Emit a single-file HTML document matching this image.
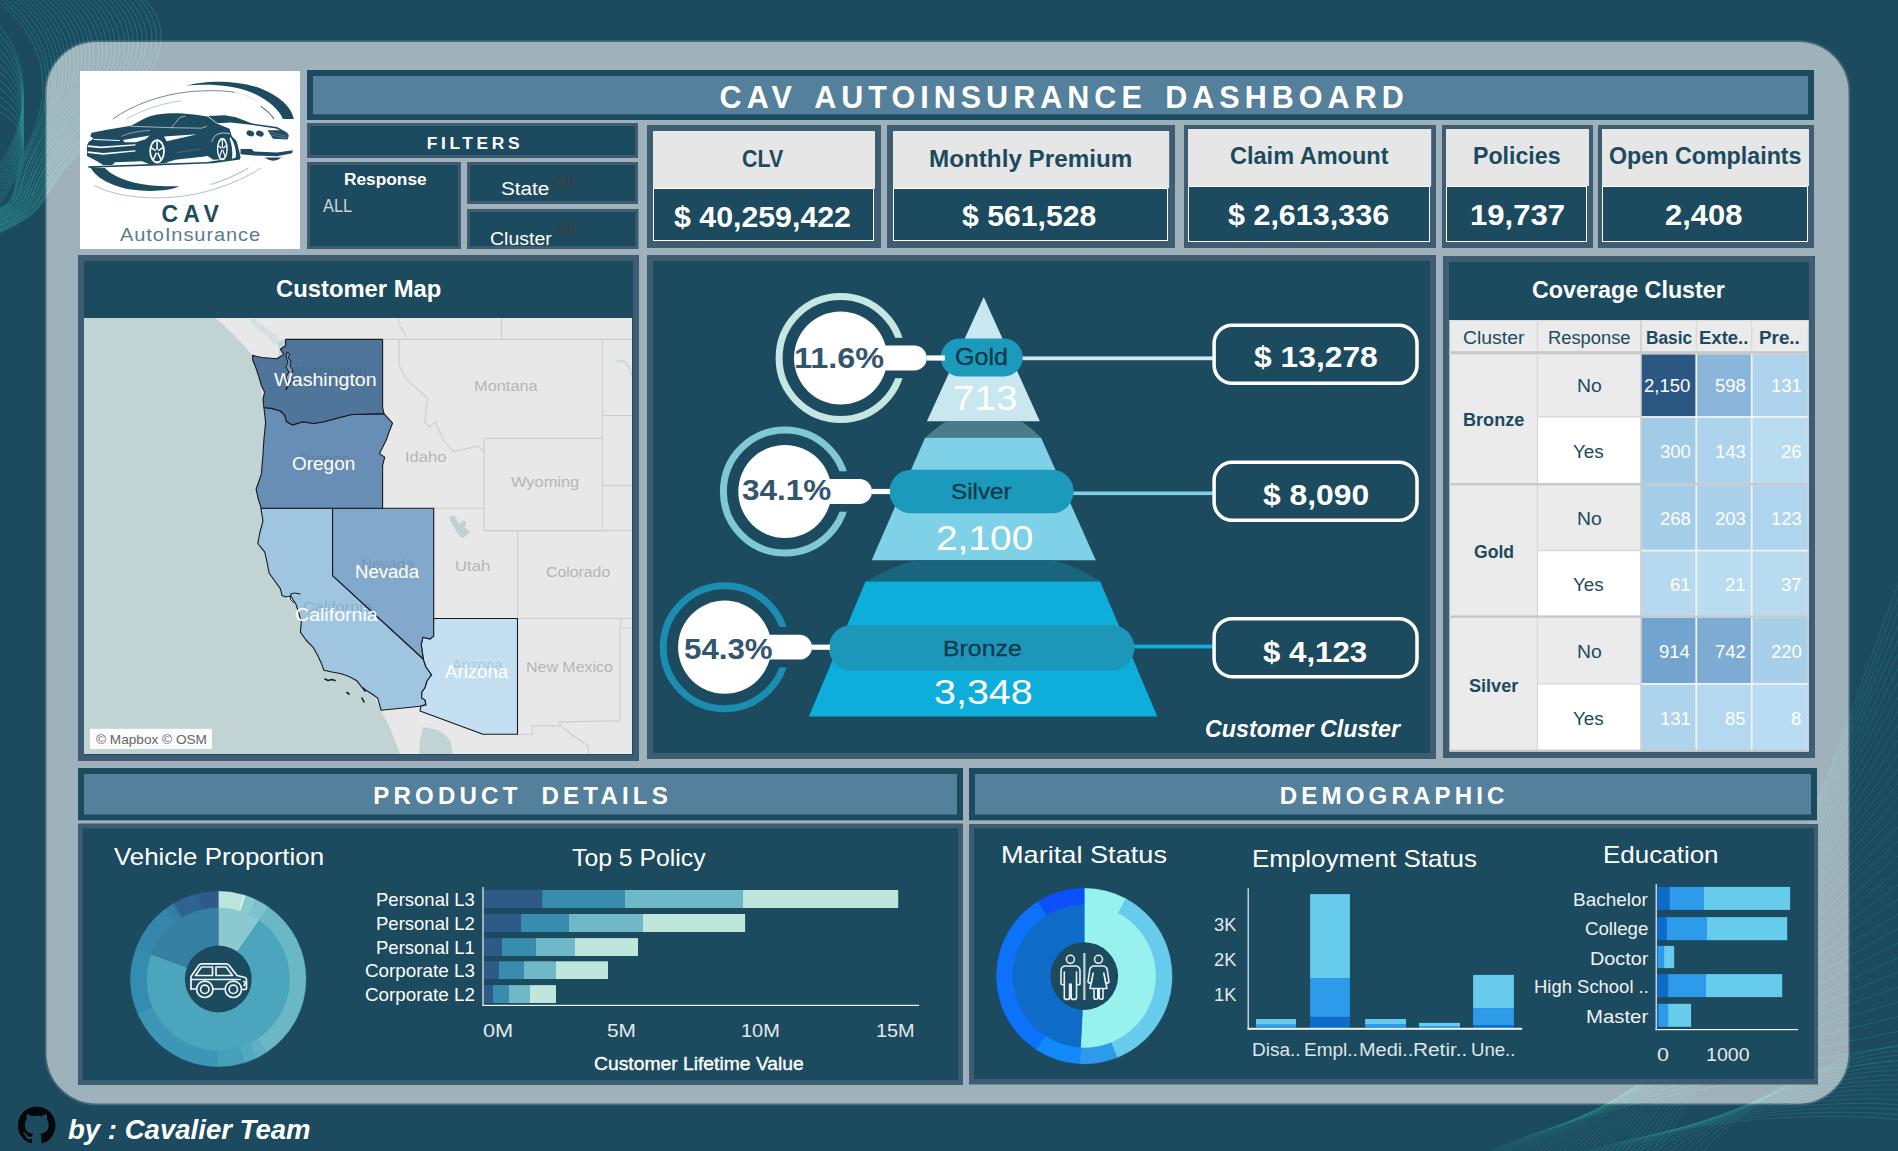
<!DOCTYPE html>
<html lang="en"><head><meta charset="utf-8"><title>CAV AutoInsurance Dashboard</title>
<style>
html,body{margin:0;padding:0;background:#1c4a5e;}
body{width:1898px;height:1151px;overflow:hidden;position:relative;font-family:"Liberation Sans", sans-serif;}
#root{position:absolute;left:0;top:0;width:1898px;height:1151px;overflow:hidden;}
#root svg{position:absolute;left:0;top:0;}
.t{position:absolute;white-space:pre;line-height:1;transform-origin:0 0;font-family:"Liberation Sans", sans-serif;}
</style></head><body><div id="root">
<svg width="1898" height="1151" viewBox="0 0 1898 1151">
<g fill="none" stroke="#2fa39a" stroke-opacity="0.5" stroke-width="0.85"><path d="M-10,-5 C45,35 55,85 30,140 S25,198 -8,212" /><path d="M-5,-5 C50,35 58,86 32,140 S26,198 -8,213" /><path d="M0,-5 C55,36 60,86 33,141 S27,199 -8,214" /><path d="M6,-5 C61,36 63,87 35,141 S29,199 -8,214" /><path d="M11,-5 C66,36 65,87 37,142 S30,199 -8,215" /><path d="M16,-5 C71,37 68,88 39,142 S31,199 -8,216" /><path d="M21,-5 C76,37 71,88 40,142 S32,200 -8,217" /><path d="M26,-5 C81,37 73,89 42,143 S33,200 -8,218" /><path d="M31,-5 C86,38 76,89 44,143 S35,200 -8,219" /><path d="M37,-5 C92,38 78,90 46,144 S36,200 -8,219" /><path d="M42,-5 C97,38 81,90 47,144 S37,201 -8,220" /><path d="M47,-5 C102,39 83,91 49,145 S38,201 -8,221" /><path d="M52,-5 C107,39 86,91 51,145 S39,201 -8,222" /><path d="M57,-5 C112,39 89,92 52,145 S41,202 -8,223" /><path d="M62,-5 C117,40 91,92 54,146 S42,202 -8,224" /><path d="M68,-5 C123,40 94,93 56,146 S43,202 -8,224" /><path d="M73,-5 C128,41 96,93 58,147 S44,202 -8,225" /><path d="M78,-5 C133,41 99,94 59,147 S46,203 -8,226" /><path d="M83,-5 C138,41 102,94 61,147 S47,203 -8,227" /><path d="M88,-5 C143,42 104,95 63,148 S48,203 -8,228" /><path d="M93,-5 C148,42 107,95 64,148 S49,204 -8,229" /><path d="M99,-5 C154,42 109,96 66,149 S50,204 -8,229" /><path d="M104,-5 C159,43 112,96 68,149 S52,204 -8,230" /><path d="M109,-5 C164,43 114,97 70,150 S53,204 -8,231" /><path d="M114,-5 C169,43 117,97 71,150 S54,205 -8,232" /><path d="M119,-5 C174,44 120,98 73,150 S55,205 -8,233" /><path d="M124,-5 C179,44 122,98 75,151 S56,205 -8,234" /><path d="M130,-5 C185,44 125,99 77,151 S58,205 -8,234" /><path d="M135,-5 C190,45 127,99 78,152 S59,206 -8,235" /><path d="M140,-5 C195,45 130,100 80,152 S60,206 -8,236" /><path d="M-5,20 C30,60 35,120 -5,170" /><path d="M-5,28 C31,66 34,125 -5,174" /><path d="M-5,36 C32,73 33,129 -5,177" /><path d="M-5,45 C33,79 32,134 -5,181" /><path d="M-5,53 C34,85 31,138 -5,185" /><path d="M-5,61 C35,92 30,143 -5,188" /><path d="M-5,69 C35,98 30,147 -5,192" /><path d="M-5,77 C36,105 29,152 -5,195" /><path d="M-5,85 C37,111 28,156 -5,199" /><path d="M-5,94 C38,117 27,161 -5,203" /><path d="M-5,102 C39,124 26,165 -5,206" /><path d="M-5,110 C40,130 25,170 -5,210" /></g>
<g fill="none" stroke="#2f9f99" stroke-opacity="0.30" stroke-width="0.9"><path d="M1470,1160 C1600,1100 1760,1075 1905,1060" /><path d="M1476,1160 C1604,1098 1762,1066 1905,1045" /><path d="M1481,1160 C1608,1097 1764,1057 1905,1030" /><path d="M1486,1160 C1612,1096 1766,1048 1905,1015" /><path d="M1492,1160 C1616,1094 1768,1039 1905,1000" /><path d="M1498,1160 C1620,1092 1770,1030 1905,985" /><path d="M1503,1160 C1624,1091 1772,1021 1905,970" /><path d="M1508,1160 C1628,1090 1774,1012 1905,955" /><path d="M1514,1160 C1632,1088 1776,1003 1905,940" /><path d="M1520,1160 C1636,1086 1778,994 1905,925" /><path d="M1525,1160 C1640,1085 1780,985 1905,910" /><path d="M1530,1160 C1644,1084 1782,976 1905,895" /><path d="M1536,1160 C1648,1082 1784,967 1905,880" /><path d="M1542,1160 C1652,1080 1786,958 1905,865" /><path d="M1547,1160 C1656,1079 1788,949 1905,850" /><path d="M1552,1160 C1660,1078 1790,940 1905,835" /><path d="M1558,1160 C1664,1076 1792,931 1905,820" /><path d="M1564,1160 C1668,1074 1794,922 1905,805" /><path d="M1569,1160 C1672,1073 1796,913 1905,790" /><path d="M1574,1160 C1676,1072 1798,904 1905,775" /><path d="M1580,1160 C1680,1070 1800,895 1905,760" /><path d="M1586,1160 C1684,1068 1802,886 1905,745" /><path d="M1591,1160 C1688,1067 1804,877 1905,730" /><path d="M1596,1160 C1692,1066 1806,868 1905,715" /><path d="M1602,1160 C1696,1064 1808,859 1905,700" /><path d="M1608,1160 C1700,1062 1810,850 1905,685" /><path d="M1613,1160 C1704,1061 1812,841 1905,670" /><path d="M1618,1160 C1708,1060 1814,832 1905,655" /><path d="M1624,1160 C1712,1058 1816,823 1905,640" /><path d="M1630,1160 C1716,1056 1818,814 1905,625" /><path d="M1635,1160 C1720,1055 1820,805 1905,610" /><path d="M1640,1160 C1724,1054 1822,796 1905,595" /><path d="M1646,1160 C1728,1052 1824,787 1905,580" /><path d="M1652,1160 C1732,1050 1826,778 1905,565" /><path d="M1560,1160 C1680,1120 1800,1110 1905,1120" /><path d="M1569,1160 C1685,1118 1803,1106 1905,1115" /><path d="M1578,1160 C1690,1116 1806,1102 1905,1110" /><path d="M1587,1160 C1695,1114 1809,1098 1905,1105" /><path d="M1596,1160 C1700,1112 1812,1094 1905,1100" /><path d="M1605,1160 C1705,1110 1815,1090 1905,1095" /><path d="M1614,1160 C1710,1108 1818,1086 1905,1090" /><path d="M1623,1160 C1715,1106 1821,1082 1905,1085" /><path d="M1632,1160 C1720,1104 1824,1078 1905,1080" /><path d="M1641,1160 C1725,1102 1827,1074 1905,1075" /><path d="M1650,1160 C1730,1100 1830,1070 1905,1070" /><path d="M1659,1160 C1735,1098 1833,1066 1905,1065" /><path d="M1668,1160 C1740,1096 1836,1062 1905,1060" /><path d="M1677,1160 C1745,1094 1839,1058 1905,1055" /><path d="M1686,1160 C1750,1092 1842,1054 1905,1050" /><path d="M1695,1160 C1755,1090 1845,1050 1905,1045" /></g>
<rect x="46.5" y="42" width="1802" height="1061.5" rx="50" ry="50" fill="#9fb2bb" stroke="#9fb2bb" stroke-opacity="0.3" stroke-width="3.4"/>
<clipPath id="cpP"><rect x="46.5" y="42" width="1802" height="1061.5" rx="50" ry="50"/></clipPath>
<g clip-path="url(#cpP)" fill="none" stroke="#a9dcd6" stroke-opacity="0.55" stroke-width="0.9"><path d="M-10,-5 C45,35 55,85 30,140 S25,198 -8,212" /><path d="M-5,-5 C50,35 58,86 32,140 S26,198 -8,213" /><path d="M0,-5 C55,36 60,86 33,141 S27,199 -8,214" /><path d="M6,-5 C61,36 63,87 35,141 S29,199 -8,214" /><path d="M11,-5 C66,36 65,87 37,142 S30,199 -8,215" /><path d="M16,-5 C71,37 68,88 39,142 S31,199 -8,216" /><path d="M21,-5 C76,37 71,88 40,142 S32,200 -8,217" /><path d="M26,-5 C81,37 73,89 42,143 S33,200 -8,218" /><path d="M31,-5 C86,38 76,89 44,143 S35,200 -8,219" /><path d="M37,-5 C92,38 78,90 46,144 S36,200 -8,219" /><path d="M42,-5 C97,38 81,90 47,144 S37,201 -8,220" /><path d="M47,-5 C102,39 83,91 49,145 S38,201 -8,221" /><path d="M52,-5 C107,39 86,91 51,145 S39,201 -8,222" /><path d="M57,-5 C112,39 89,92 52,145 S41,202 -8,223" /><path d="M62,-5 C117,40 91,92 54,146 S42,202 -8,224" /><path d="M68,-5 C123,40 94,93 56,146 S43,202 -8,224" /><path d="M73,-5 C128,41 96,93 58,147 S44,202 -8,225" /><path d="M78,-5 C133,41 99,94 59,147 S46,203 -8,226" /><path d="M83,-5 C138,41 102,94 61,147 S47,203 -8,227" /><path d="M88,-5 C143,42 104,95 63,148 S48,203 -8,228" /><path d="M93,-5 C148,42 107,95 64,148 S49,204 -8,229" /><path d="M99,-5 C154,42 109,96 66,149 S50,204 -8,229" /><path d="M104,-5 C159,43 112,96 68,149 S52,204 -8,230" /><path d="M109,-5 C164,43 114,97 70,150 S53,204 -8,231" /><path d="M114,-5 C169,43 117,97 71,150 S54,205 -8,232" /><path d="M119,-5 C174,44 120,98 73,150 S55,205 -8,233" /><path d="M124,-5 C179,44 122,98 75,151 S56,205 -8,234" /><path d="M130,-5 C185,44 125,99 77,151 S58,205 -8,234" /><path d="M135,-5 C190,45 127,99 78,152 S59,206 -8,235" /><path d="M140,-5 C195,45 130,100 80,152 S60,206 -8,236" /><path d="M-5,20 C30,60 35,120 -5,170" /><path d="M-5,28 C31,66 34,125 -5,174" /><path d="M-5,36 C32,73 33,129 -5,177" /><path d="M-5,45 C33,79 32,134 -5,181" /><path d="M-5,53 C34,85 31,138 -5,185" /><path d="M-5,61 C35,92 30,143 -5,188" /><path d="M-5,69 C35,98 30,147 -5,192" /><path d="M-5,77 C36,105 29,152 -5,195" /><path d="M-5,85 C37,111 28,156 -5,199" /><path d="M-5,94 C38,117 27,161 -5,203" /><path d="M-5,102 C39,124 26,165 -5,206" /><path d="M-5,110 C40,130 25,170 -5,210" /></g>
<g clip-path="url(#cpP)" fill="none" stroke="#a9e0d8" stroke-opacity="0.35" stroke-width="0.9"><path d="M1470,1160 C1600,1100 1760,1075 1905,1060" /><path d="M1476,1160 C1604,1098 1762,1066 1905,1045" /><path d="M1481,1160 C1608,1097 1764,1057 1905,1030" /><path d="M1486,1160 C1612,1096 1766,1048 1905,1015" /><path d="M1492,1160 C1616,1094 1768,1039 1905,1000" /><path d="M1498,1160 C1620,1092 1770,1030 1905,985" /><path d="M1503,1160 C1624,1091 1772,1021 1905,970" /><path d="M1508,1160 C1628,1090 1774,1012 1905,955" /><path d="M1514,1160 C1632,1088 1776,1003 1905,940" /><path d="M1520,1160 C1636,1086 1778,994 1905,925" /><path d="M1525,1160 C1640,1085 1780,985 1905,910" /><path d="M1530,1160 C1644,1084 1782,976 1905,895" /><path d="M1536,1160 C1648,1082 1784,967 1905,880" /><path d="M1542,1160 C1652,1080 1786,958 1905,865" /><path d="M1547,1160 C1656,1079 1788,949 1905,850" /><path d="M1552,1160 C1660,1078 1790,940 1905,835" /><path d="M1558,1160 C1664,1076 1792,931 1905,820" /><path d="M1564,1160 C1668,1074 1794,922 1905,805" /><path d="M1569,1160 C1672,1073 1796,913 1905,790" /><path d="M1574,1160 C1676,1072 1798,904 1905,775" /><path d="M1580,1160 C1680,1070 1800,895 1905,760" /><path d="M1586,1160 C1684,1068 1802,886 1905,745" /><path d="M1591,1160 C1688,1067 1804,877 1905,730" /><path d="M1596,1160 C1692,1066 1806,868 1905,715" /><path d="M1602,1160 C1696,1064 1808,859 1905,700" /><path d="M1608,1160 C1700,1062 1810,850 1905,685" /><path d="M1613,1160 C1704,1061 1812,841 1905,670" /><path d="M1618,1160 C1708,1060 1814,832 1905,655" /><path d="M1624,1160 C1712,1058 1816,823 1905,640" /><path d="M1630,1160 C1716,1056 1818,814 1905,625" /><path d="M1635,1160 C1720,1055 1820,805 1905,610" /><path d="M1640,1160 C1724,1054 1822,796 1905,595" /><path d="M1646,1160 C1728,1052 1824,787 1905,580" /><path d="M1652,1160 C1732,1050 1826,778 1905,565" /><path d="M1560,1160 C1680,1120 1800,1110 1905,1120" /><path d="M1569,1160 C1685,1118 1803,1106 1905,1115" /><path d="M1578,1160 C1690,1116 1806,1102 1905,1110" /><path d="M1587,1160 C1695,1114 1809,1098 1905,1105" /><path d="M1596,1160 C1700,1112 1812,1094 1905,1100" /><path d="M1605,1160 C1705,1110 1815,1090 1905,1095" /><path d="M1614,1160 C1710,1108 1818,1086 1905,1090" /><path d="M1623,1160 C1715,1106 1821,1082 1905,1085" /><path d="M1632,1160 C1720,1104 1824,1078 1905,1080" /><path d="M1641,1160 C1725,1102 1827,1074 1905,1075" /><path d="M1650,1160 C1730,1100 1830,1070 1905,1070" /><path d="M1659,1160 C1735,1098 1833,1066 1905,1065" /><path d="M1668,1160 C1740,1096 1836,1062 1905,1060" /><path d="M1677,1160 C1745,1094 1839,1058 1905,1055" /><path d="M1686,1160 C1750,1092 1842,1054 1905,1050" /><path d="M1695,1160 C1755,1090 1845,1050 1905,1045" /></g>
<rect x="307.00" y="70.00" width="1507.00" height="50.00" fill="#1c4a5e" />
<rect x="313.00" y="76.00" width="1495.00" height="38.30" fill="#54809c" />
<rect x="307.00" y="123.00" width="331.00" height="35.00" fill="#3e5c72" />
<rect x="310.00" y="126.00" width="325.00" height="29.00" fill="#1c4a5e" />
<rect x="307.00" y="162.00" width="154.00" height="87.00" fill="#3e5c72" />
<rect x="310.00" y="165.00" width="148.00" height="81.00" fill="#1c4a5e" />
<rect x="467.00" y="162.00" width="171.00" height="42.00" fill="#3e5c72" />
<rect x="470.00" y="165.00" width="165.00" height="36.00" fill="#1c4a5e" />
<rect x="467.00" y="209.00" width="171.50" height="40.00" fill="#3e5c72" />
<rect x="470.00" y="212.00" width="165.50" height="34.00" fill="#1c4a5e" />
<rect x="647.00" y="125.00" width="234.00" height="123.00" fill="#3e5c72" />
<rect x="653.00" y="131.00" width="222.00" height="57.50" fill="#e6e6e6" />
<rect x="653.50" y="188.50" width="220.00" height="52.00" fill="#1c4a5e" stroke="#fff" stroke-width="1"/>
<rect x="887.00" y="125.00" width="288.00" height="123.00" fill="#3e5c72" />
<rect x="893.00" y="131.00" width="276.20" height="57.40" fill="#e6e6e6" />
<rect x="893.50" y="188.50" width="274.00" height="52.00" fill="#1c4a5e" stroke="#fff" stroke-width="1"/>
<rect x="1184.00" y="125.00" width="252.00" height="123.00" fill="#3e5c72" />
<rect x="1188.00" y="129.00" width="243.20" height="57.70" fill="#e6e6e6" />
<rect x="1188.50" y="186.50" width="241.00" height="55.00" fill="#1c4a5e" stroke="#fff" stroke-width="1"/>
<rect x="1442.00" y="125.00" width="151.00" height="123.00" fill="#3e5c72" />
<rect x="1446.00" y="129.00" width="143.00" height="57.00" fill="#e6e6e6" />
<rect x="1446.50" y="186.50" width="140.00" height="55.00" fill="#1c4a5e" stroke="#fff" stroke-width="1"/>
<rect x="1598.00" y="125.00" width="216.00" height="123.00" fill="#3e5c72" />
<rect x="1602.00" y="129.00" width="207.00" height="57.00" fill="#e6e6e6" />
<rect x="1602.50" y="186.50" width="205.00" height="55.00" fill="#1c4a5e" stroke="#fff" stroke-width="1"/>
<rect x="78.00" y="255.00" width="561.00" height="506.00" fill="#3e5c72" />
<rect x="84.00" y="261.00" width="549.00" height="494.00" fill="#1c4a5e" />
<rect x="647.00" y="255.00" width="789.00" height="504.00" fill="#3e5c72" />
<rect x="653.00" y="261.00" width="777.00" height="492.00" fill="#1c4a5e" />
<rect x="1443.00" y="256.00" width="372.00" height="502.00" fill="#3e5c72" />
<rect x="1449.00" y="262.00" width="360.00" height="490.00" fill="#1c4a5e" />
<rect x="78.00" y="768.00" width="885.00" height="52.30" fill="#1c4a5e" />
<rect x="84.00" y="774.00" width="873.00" height="40.50" fill="#54809c" />
<rect x="969.00" y="768.00" width="848.00" height="52.30" fill="#1c4a5e" />
<rect x="975.00" y="774.00" width="836.00" height="40.50" fill="#54809c" />
<rect x="78.00" y="823.50" width="885.00" height="261.50" fill="#3e5c72" />
<rect x="82.60" y="828.30" width="876.00" height="251.70" fill="#1c4a5e" />
<rect x="969.00" y="824.00" width="849.00" height="260.50" fill="#3e5c72" />
<rect x="974.00" y="828.20" width="840.00" height="250.80" fill="#1c4a5e" />
<clipPath id="cpM"><rect x="84" y="318" width="548" height="436"/></clipPath>
<g clip-path="url(#cpM)">
<rect x="84.00" y="318.00" width="548.00" height="436.00" fill="#c2d3d3" />
<polygon points="215.7,318.0 232.0,333.0 245.0,347.0 252.6,355.4 256.0,368.0 259.5,378.8 263.0,399.7 263.9,407.5 265.6,422.3 263.9,439.7 261.3,474.4 256.1,489.2 261.3,508.3 263.0,520.9 257.8,543.5 264.8,552.1 269.1,573.0 280.4,588.6 282.1,595.6 296.0,604.3 301.3,621.7 300.4,632.1 313.4,647.7 322.1,665.1 323.9,670.3 341.2,673.8 356.9,680.8 373.5,695.0 381.1,710.2 386.0,720.0 390.6,729.1 395.0,741.0 400.0,754.0 632.0,754.0 632.0,318.0" fill="#e8e8e8"/>
<path d="M249,319 l5,-1 4,5 6,3 8,7 5,1 2,8 -5,3 -6,-8 -8,-6 -7,-6z" fill="#d3e0e0"/>
<path d="M277,343 q5,-4 9,-3 l0,18 q-6,4 -10,1 q6,-6 1,-16z" fill="#c2d3d3"/>
<polygon points="423.0,727.0 430.0,728.5 438.0,730.0 445.0,735.0 450.0,740.0 453.0,754.0 419.0,754.0 420.0,740.0" fill="#c2d3d3"/>
<polygon points="449.0,516.5 454.2,515.3 459.4,524.3 462.0,520.9 466.4,521.7 464.7,527.8 469.9,532.2 462.9,538.2 457.7,533.9 453.4,526.1 449.9,520.0" fill="#bfd1d1"/>
<path d="M616,362 q6,-3 10,1 t4,8 l2,4" fill="none" stroke="#bfd6d6" stroke-width="1.3"/>
<g fill="none" stroke="#cdcdcd" stroke-width="1.1"><path d="M382.6,339.4 H632"/><path d="M501.4,318 V339.4"/><path d="M399.1,340 V364.8 L404.9,377.3 L416,388 L427.8,398.3 L426,410 L424.9,422.2 L429.7,427 L435.4,422.2 L440,433 L445,442.3 L453.6,451.8 L465,449 L477.5,446.1 L484.2,451.8"/><path d="M484.2,438.4 H602.3 V530.6 H484.2 Z"/><path d="M602.3,339.4 V438.4"/><path d="M602.3,415.5 H632"/><path d="M602.3,485.3 H632"/><path d="M433.7,508.3 H484.2"/><path d="M484.2,530.6 H632"/><path d="M517.6,530.6 V618.5"/><path d="M517.5,618.5 H632"/><path d="M620.8,618.5 V628 H632"/><path d="M619.8,628 V720.9 L558.9,721.9 L560.9,725.9 H532.3 V734.2 H517.5"/><path d="M560.9,725.9 L572,735 L587.8,745.8 L588.8,754"/><path d="M399,318 q-2,6 2,10 t5,11"/></g>
<polygon points="260.9,508.3 332.6,508.3 332.6,575.6 423.3,659.0 426.0,667.0 431.6,674.9 427.0,681.0 425.0,688.0 422.0,692.0 421.6,698.0 425.0,700.0 426.0,705.0 420.5,706.3 381.1,710.2 377.7,698.2 373.5,695.0 362.1,687.7 356.9,680.8 349.0,676.5 341.2,673.8 332.0,672.0 323.9,670.3 322.1,665.1 318.0,656.0 313.4,647.7 306.0,640.0 300.4,632.1 301.3,621.7 298.5,612.0 296.0,604.3 290.8,596.0 286.0,597.0 282.1,595.6 280.4,588.6 274.0,580.0 269.1,573.0 267.0,562.0 264.8,552.1 257.8,543.5 260.0,532.0 263.0,520.9" fill="#9fc5e1" stroke="#141a1f" stroke-width="1.1" stroke-linejoin="round"/>
<polygon points="433.4,618.5 517.5,618.5 517.5,734.2 482.9,734.2 420.0,710.9 421.0,705.9 426.0,704.9 425.0,699.9 421.6,697.9 422.0,691.9 425.0,687.9 427.0,681.0 431.6,674.9 426.0,667.0 423.3,659.0 421.2,644.3 422.9,637.3 429.9,639.0 433.4,635.9" fill="#c3dff1" stroke="#141a1f" stroke-width="1.1" stroke-linejoin="round"/>
<polygon points="332.6,508.3 433.7,508.3 433.7,636.4 429.9,639.0 422.9,637.3 421.2,644.3 423.3,659.0 332.6,575.6" fill="#82a8cc" stroke="#141a1f" stroke-width="1.1" stroke-linejoin="round"/>
<polygon points="263.9,407.5 271.7,408.4 280.4,411.0 284.8,415.3 286.5,421.4 292.6,424.9 303.0,421.8 313.4,423.5 323.9,421.8 337.8,418.0 351.7,414.5 384.0,413.6 392.5,423.2 389.0,432.0 386.4,439.7 379.5,453.6 384.7,457.1 382.6,465.7 382.6,508.3 261.3,508.3 258.0,498.0 256.1,489.2 259.0,481.0 261.3,474.4 262.8,457.0 263.9,439.7 265.6,422.3" fill="#698eb5" stroke="#141a1f" stroke-width="1.1" stroke-linejoin="round"/>
<polygon points="285.6,339.4 382.6,339.4 382.6,407.5 384.0,413.6 351.7,414.5 337.8,418.0 323.9,421.8 313.4,423.5 303.0,421.8 292.6,424.9 286.5,421.4 284.8,415.3 280.4,411.0 271.7,408.4 263.9,407.5 263.0,399.7 264.5,392.0 261.5,386.0 259.5,378.8 256.0,368.0 252.6,359.7 252.6,355.4 262.0,357.5 276.9,358.8 283.9,354.5 280.4,349.3 285.6,345.8" fill="#4f759b" stroke="#141a1f" stroke-width="1.1" stroke-linejoin="round"/>
<path d="M287,352 l3,2 -2,4 3,3 -1,5 3,4 -2,6 2,5 -4,4 -3,5 2,-7 -2,-6 3,-5 -3,-5 2,-5 -2,-5z" fill="#7d97b3" stroke="#141a1f" stroke-width="1"/>
<path d="M290.5,594 l4,-1 6,1 M291,594 l-1,5 4,4" fill="none" stroke="#141a1f" stroke-width="1"/>
<path d="M325,679 l3,1.5 4,-1 3,1 M347,692.5 l2,1.5 M363,688 l2,3 M362,698 l2,4" fill="none" stroke="#141a1f" stroke-width="1.6" stroke-linecap="round"/>
</g>
<rect x="89.9" y="728.8" width="122" height="20.2" fill="#ffffff" fill-opacity="0.92"/>
<polygon points="983.7,296.9 1039.8,421.3 926.9,421.3" fill="#c9e7ef"/>
<path d="M925.1,437.7 C933,431 940,424.5 947,421.3 L1020.5,421.3 C1027,424.5 1034,431 1041.1,437.7 Z" fill="#4a7b88"/>
<polygon points="925.1,437.7 1041.1,437.7 1095.8,560.2 871.7,560.2" fill="#7fd1e8"/>
<path d="M865.5,581.5 C884,571 900,563.5 917,560.2 L1052.5,560.2 C1069,563.5 1085,571 1100.2,581.5 Z" fill="#1a657e"/>
<polygon points="865.5,581.5 1100.2,581.5 1157.3,716.6 808.9,716.6" fill="#0eaedb"/>
<rect x="1022" y="356.4" width="192" height="3.8" fill="#cdeaf0"/>
<rect x="1073" y="491.5" width="141" height="3.6" fill="#7fd1e8"/>
<rect x="1134" y="644.6" width="80" height="3.8" fill="#0eaedb"/>
<rect x="940.7" y="338.6" width="82.1" height="37.8" rx="18.9" fill="#1b9abb"/>
<rect x="889.4" y="469.7" width="184.3" height="43.6" rx="21.8" fill="#1b9abb"/>
<rect x="828.8" y="624.9" width="305.6" height="45.8" rx="22.9" fill="#1c97b9"/>
<circle cx="840.6" cy="358" r="61.5" fill="none" stroke="#c5e6e2" stroke-width="7"/>
<rect x="890.6" y="337.8" width="20" height="40.4" fill="#1c4a5e"/>
<rect x="926.8" y="355.4" width="18" height="5.2" fill="#fff"/>
<rect x="840.6" y="345.60" width="86.2" height="24.8" rx="12.4" fill="#fff"/>
<circle cx="840.6" cy="358" r="46.6" fill="#fff"/>
<circle cx="784.9" cy="491.5" r="61.5" fill="none" stroke="#7fc8d4" stroke-width="7"/>
<rect x="834.9" y="471.3" width="20" height="40.4" fill="#1c4a5e"/>
<rect x="872.0" y="488.9" width="18" height="5.2" fill="#fff"/>
<rect x="784.9" y="479.10" width="87.1" height="24.8" rx="12.4" fill="#fff"/>
<circle cx="784.9" cy="491.5" r="46.6" fill="#fff"/>
<circle cx="724.7" cy="647.2" r="61.5" fill="none" stroke="#1b8db0" stroke-width="7"/>
<rect x="774.7" y="627.0" width="20" height="40.4" fill="#1c4a5e"/>
<rect x="812.0" y="644.6" width="18" height="5.2" fill="#fff"/>
<rect x="724.7" y="634.80" width="87.3" height="24.8" rx="12.4" fill="#fff"/>
<circle cx="724.7" cy="647.2" r="46.6" fill="#fff"/>
<rect x="1214.1" y="325.35" width="202.9" height="58" rx="18" fill="#1c4a5e" stroke="#fff" stroke-width="3.5"/>
<rect x="1214.1" y="462.35" width="202.9" height="58" rx="18" fill="#1c4a5e" stroke="#fff" stroke-width="3.5"/>
<rect x="1214.1" y="618.65" width="202.9" height="58" rx="18" fill="#1c4a5e" stroke="#fff" stroke-width="3.5"/>
<rect x="1449.50" y="320.00" width="359.10" height="32.00" fill="#ebebeb" />
<rect x="1449.50" y="352.00" width="359.10" height="399.60" fill="#ebebeb" />
<rect x="1537.50" y="417.00" width="103.50" height="67.40" fill="#fff" />
<rect x="1537.50" y="550.60" width="103.50" height="66.20" fill="#fff" />
<rect x="1537.50" y="683.90" width="103.50" height="66.70" fill="#fff" />
<rect x="1641.00" y="354.40" width="55.30" height="62.60" fill="#2b5783" />
<rect x="1696.30" y="354.40" width="55.40" height="62.60" fill="#89b6da" />
<rect x="1751.70" y="354.40" width="56.90" height="62.60" fill="#aed4ed" />
<rect x="1641.00" y="417.00" width="55.30" height="67.40" fill="#a1cbe7" />
<rect x="1696.30" y="417.00" width="55.40" height="67.40" fill="#aed4ed" />
<rect x="1751.70" y="417.00" width="56.90" height="67.40" fill="#b9dcf1" />
<rect x="1641.00" y="484.40" width="55.30" height="66.20" fill="#a4cde8" />
<rect x="1696.30" y="484.40" width="55.40" height="66.20" fill="#a9d0ea" />
<rect x="1751.70" y="484.40" width="56.90" height="66.20" fill="#afd4ed" />
<rect x="1641.00" y="550.60" width="55.30" height="66.20" fill="#b6d9ef" />
<rect x="1696.30" y="550.60" width="55.40" height="66.20" fill="#b9dcf1" />
<rect x="1751.70" y="550.60" width="56.90" height="66.20" fill="#b8dbf0" />
<rect x="1641.00" y="616.80" width="55.30" height="67.10" fill="#73a3cf" />
<rect x="1696.30" y="616.80" width="55.40" height="67.10" fill="#7eabd3" />
<rect x="1751.70" y="616.80" width="56.90" height="67.10" fill="#a7cfe9" />
<rect x="1641.00" y="683.90" width="55.30" height="66.70" fill="#aed4ed" />
<rect x="1696.30" y="683.90" width="55.40" height="66.70" fill="#b4d8ef" />
<rect x="1751.70" y="683.90" width="56.90" height="66.70" fill="#badcf2" />
<rect x="1695.40" y="352.00" width="1.80" height="399.00" fill="#eef4f8" />
<rect x="1750.80" y="352.00" width="1.80" height="399.00" fill="#eef4f8" />
<rect x="1641.00" y="416.10" width="167.60" height="1.80" fill="#eef4f8" />
<rect x="1641.00" y="483.50" width="167.60" height="1.80" fill="#eef4f8" />
<rect x="1641.00" y="549.70" width="167.60" height="1.80" fill="#eef4f8" />
<rect x="1641.00" y="615.90" width="167.60" height="1.80" fill="#eef4f8" />
<rect x="1641.00" y="683.00" width="167.60" height="1.80" fill="#eef4f8" />
<rect x="1536.90" y="320.00" width="1.20" height="431.00" fill="#d6d6d6" />
<rect x="1640.20" y="320.00" width="1.60" height="431.00" fill="#cfcfcf" />
<rect x="1695.70" y="320.00" width="1.20" height="32.00" fill="#d6d6d6" />
<rect x="1751.10" y="320.00" width="1.20" height="32.00" fill="#d6d6d6" />
<rect x="1537.50" y="416.40" width="103.50" height="1.20" fill="#d6d6d6" />
<rect x="1537.50" y="550.00" width="103.50" height="1.20" fill="#d6d6d6" />
<rect x="1537.50" y="683.30" width="103.50" height="1.20" fill="#d6d6d6" />
<rect x="1449.50" y="351.20" width="359.10" height="3.00" fill="#c9c9c9" />
<rect x="1449.50" y="483.00" width="359.10" height="2.40" fill="#c9c9c9" />
<rect x="1449.50" y="615.40" width="359.10" height="2.40" fill="#c9c9c9" />
<rect x="1449.50" y="749.60" width="359.10" height="2.20" fill="#c9c9c9" />
<rect x="1449.50" y="320.00" width="359.10" height="1.00" fill="#dcdcdc" />
<rect x="1449.50" y="320.00" width="1.00" height="431.00" fill="#dcdcdc" />
<rect x="1807.60" y="320.00" width="1.00" height="431.00" fill="#dcdcdc" />
<path d="M218.30,891.30 A87.7,87.7 0 0 1 242.47,894.70 L237.82,910.94 A70.8,70.8 0 0 0 218.30,908.20 Z" fill="#bde6da" stroke="#bde6da" stroke-width="0.4"/>
<path d="M242.47,894.70 A87.7,87.7 0 0 1 246.13,895.83 L240.77,911.86 A70.8,70.8 0 0 0 237.82,910.94 Z" fill="#c9ede2" stroke="#c9ede2" stroke-width="0.4"/>
<path d="M246.13,895.83 A87.7,87.7 0 0 1 256.75,900.18 L249.34,915.37 A70.8,70.8 0 0 0 240.77,911.86 Z" fill="#89c9d1" stroke="#89c9d1" stroke-width="0.4"/>
<path d="M256.75,900.18 A87.7,87.7 0 0 1 268.60,907.16 L258.91,921.00 A70.8,70.8 0 0 0 249.34,915.37 Z" fill="#7dc3cd" stroke="#7dc3cd" stroke-width="0.4"/>
<path d="M268.60,907.16 A87.7,87.7 0 0 1 266.06,1052.55 L256.86,1038.38 A70.8,70.8 0 0 0 258.91,921.00 Z" fill="#6ab7c5" stroke="#6ab7c5" stroke-width="0.4"/>
<path d="M266.06,1052.55 A87.7,87.7 0 0 1 255.36,1058.48 L248.22,1043.17 A70.8,70.8 0 0 0 256.86,1038.38 Z" fill="#5db0c2" stroke="#5db0c2" stroke-width="0.4"/>
<path d="M255.36,1058.48 A87.7,87.7 0 0 1 243.94,1062.87 L239.00,1046.71 A70.8,70.8 0 0 0 248.22,1043.17 Z" fill="#53a9bf" stroke="#53a9bf" stroke-width="0.4"/>
<path d="M243.94,1062.87 A87.7,87.7 0 0 1 216.77,1066.69 L217.06,1049.79 A70.8,70.8 0 0 0 239.00,1046.71 Z" fill="#45a0ba" stroke="#45a0ba" stroke-width="0.4"/>
<path d="M216.77,1066.69 A87.7,87.7 0 0 1 137.33,1012.70 L152.94,1006.21 A70.8,70.8 0 0 0 217.06,1049.79 Z" fill="#3c96b5" stroke="#3c96b5" stroke-width="0.4"/>
<path d="M137.33,1012.70 A87.7,87.7 0 0 1 136.05,948.57 L151.90,954.44 A70.8,70.8 0 0 0 152.94,1006.21 Z" fill="#348cb0" stroke="#348cb0" stroke-width="0.4"/>
<path d="M136.05,948.57 A87.7,87.7 0 0 1 166.38,908.32 L176.39,921.94 A70.8,70.8 0 0 0 151.90,954.44 Z" fill="#3687ab" stroke="#3687ab" stroke-width="0.4"/>
<path d="M166.38,908.32 A87.7,87.7 0 0 1 173.79,903.44 L182.37,918.00 A70.8,70.8 0 0 0 176.39,921.94 Z" fill="#347da4" stroke="#347da4" stroke-width="0.4"/>
<path d="M173.79,903.44 A87.7,87.7 0 0 1 198.57,893.55 L202.37,910.01 A70.8,70.8 0 0 0 182.37,918.00 Z" fill="#2e6390" stroke="#2e6390" stroke-width="0.4"/>
<path d="M198.57,893.55 A87.7,87.7 0 0 1 218.30,891.30 L218.30,908.20 A70.8,70.8 0 0 0 202.37,910.01 Z" fill="#2d5a8a" stroke="#2d5a8a" stroke-width="0.4"/>
<path d="M218.30,907.70 A71.3,71.3 0 0 1 259.20,920.59 L236.88,952.46 A32.4,32.4 0 0 0 218.30,946.60 Z" fill="#8bc8d0" stroke="#8bc8d0" stroke-width="0.4"/>
<path d="M259.20,920.59 A71.3,71.3 0 1 1 151.43,954.26 L187.91,967.76 A32.4,32.4 0 1 0 236.88,952.46 Z" fill="#4ba6bd" stroke="#4ba6bd" stroke-width="0.4"/>
<path d="M151.43,954.26 A71.3,71.3 0 0 1 218.30,907.70 L218.30,946.60 A32.4,32.4 0 0 0 187.91,967.76 Z" fill="#3580a3" stroke="#3580a3" stroke-width="0.4"/>
<circle cx="218.3" cy="979" r="33.4" fill="#1c4a5e"/>
<path d="M1084.30,888.30 A87.8,87.8 0 0 1 1126.06,898.87 L1118.02,913.73 A70.9,70.9 0 0 0 1084.30,905.20 Z" fill="#97f2ee" stroke="#97f2ee" stroke-width="0.4"/>
<path d="M1126.06,898.87 A87.8,87.8 0 0 1 1116.91,1057.62 L1110.63,1041.93 A70.9,70.9 0 0 0 1118.02,913.73 Z" fill="#67ccec" stroke="#67ccec" stroke-width="0.4"/>
<path d="M1116.91,1057.62 A87.8,87.8 0 0 1 1079.70,1063.78 L1080.59,1046.90 A70.9,70.9 0 0 0 1110.63,1041.93 Z" fill="#2d9bea" stroke="#2d9bea" stroke-width="0.4"/>
<path d="M1079.70,1063.78 A87.8,87.8 0 0 1 1036.10,1049.48 L1045.37,1035.36 A70.9,70.9 0 0 0 1080.59,1046.90 Z" fill="#128afc" stroke="#128afc" stroke-width="0.4"/>
<path d="M1036.10,1049.48 A87.8,87.8 0 0 1 1038.29,901.32 L1047.15,915.71 A70.9,70.9 0 0 0 1045.37,1035.36 Z" fill="#0c72fb" stroke="#0c72fb" stroke-width="0.4"/>
<path d="M1038.29,901.32 A87.8,87.8 0 0 1 1084.30,888.30 L1084.30,905.20 A70.9,70.9 0 0 0 1047.15,915.71 Z" fill="#0b50fc" stroke="#0b50fc" stroke-width="0.4"/>
<path d="M1084.30,904.70 A71.4,71.4 0 1 1 1080.56,1047.40 L1082.58,1008.86 A32.8,32.8 0 1 0 1084.30,943.30 Z" fill="#97f2ee" stroke="#97f2ee" stroke-width="0.4"/>
<path d="M1080.56,1047.40 A71.4,71.4 0 0 1 1084.30,904.70 L1084.30,943.30 A32.8,32.8 0 0 0 1082.58,1008.86 Z" fill="#0e6cc8" stroke="#0e6cc8" stroke-width="0.4"/>
<circle cx="1084.3" cy="976.1" r="33.8" fill="#1c4a5e"/>
<g fill="none" stroke="#f2f6f8" stroke-width="1.7" stroke-linejoin="round" stroke-linecap="round">
<path d="M191,989 V976.5 L199,965 Q200,963.8 201.5,963.8 H226 Q227.8,963.8 228.8,965 L237,975.5 L245,977.5 Q246.5,978 246.5,980 V988.5 Q246.5,989.5 245,989.5 H242.5"/>
<path d="M191,989 H195.5 M214,989 H224"/>
<path d="M195.5,975.5 L201.5,967 H212.5 V975.5 Z M216,967 H226 L232.5,975.5 H216 Z"/>
<path d="M191,979.5 H240"/>
<circle cx="204.8" cy="989.3" r="8.2"/><circle cx="204.8" cy="989.3" r="4.2"/>
<circle cx="233.3" cy="989.3" r="8.2"/><circle cx="233.3" cy="989.3" r="4.2"/>
<path d="M244,981.5 q2.5,1.5 0,4"/>
</g>
<g fill="none" stroke="#e9eef1" stroke-width="1.6" stroke-linejoin="round" stroke-linecap="round">
<circle cx="1070.4" cy="959.3" r="4"/>
<path d="M1066,966 H1075 Q1080,966 1080,971 V984 Q1078,985.5 1076.5,984 V972 M1064.3,972 V984 Q1062.7,985.5 1061,984 V971 Q1061,966 1066,966 M1064.3,984 V998.5 Q1067,1000.5 1069.6,998.5 V984 M1071.2,984 V998.5 Q1073.8,1000.5 1076.5,998.5 V984"/>
<circle cx="1098.5" cy="959.3" r="4"/>
<path d="M1094.5,966 H1102.5 Q1106.5,966 1107.3,970 L1109,982 Q1107.5,984 1105.5,982.5 L1103.8,973 M1093.2,973 L1091.5,982.5 Q1089.5,984 1088,982 L1089.7,970 Q1090.5,966 1094.5,966 M1093.2,973 L1090,988.5 H1107 L1103.8,973 M1094,988.5 V998.5 Q1096,1000 1097.8,998.5 V988.5 M1099.2,988.5 V998.5 Q1101,1000 1103,998.5 V988.5"/>
</g>
<rect x="1083.2" y="953" width="2.3" height="47" fill="#c3ccd1"/>
<rect x="483.60" y="890.00" width="58.60" height="18.00" fill="#2e5a87" />
<rect x="542.20" y="890.00" width="82.80" height="18.00" fill="#388cae" />
<rect x="625.00" y="890.00" width="117.80" height="18.00" fill="#6fb8c7" />
<rect x="742.80" y="890.00" width="155.40" height="18.00" fill="#bee6da" />
<rect x="483.60" y="914.00" width="37.50" height="18.00" fill="#2e5a87" />
<rect x="521.10" y="914.00" width="47.80" height="18.00" fill="#388cae" />
<rect x="568.90" y="914.00" width="74.00" height="18.00" fill="#6fb8c7" />
<rect x="642.90" y="914.00" width="102.20" height="18.00" fill="#bee6da" />
<rect x="483.60" y="938.10" width="18.40" height="17.90" fill="#2e5a87" />
<rect x="502.00" y="938.10" width="33.90" height="17.90" fill="#388cae" />
<rect x="535.90" y="938.10" width="39.10" height="17.90" fill="#6fb8c7" />
<rect x="575.00" y="938.10" width="63.00" height="17.90" fill="#bee6da" />
<rect x="483.60" y="961.30" width="15.30" height="17.70" fill="#2e5a87" />
<rect x="498.90" y="961.30" width="25.00" height="17.70" fill="#388cae" />
<rect x="523.90" y="961.30" width="32.10" height="17.70" fill="#6fb8c7" />
<rect x="556.00" y="961.30" width="52.00" height="17.70" fill="#bee6da" />
<rect x="483.60" y="985.10" width="9.40" height="17.90" fill="#2e5a87" />
<rect x="493.00" y="985.10" width="15.80" height="17.90" fill="#388cae" />
<rect x="508.80" y="985.10" width="21.20" height="17.90" fill="#6fb8c7" />
<rect x="530.00" y="985.10" width="26.00" height="17.90" fill="#bee6da" />
<rect x="482.40" y="887.00" width="1.20" height="119.00" fill="#f0f3f5" />
<rect x="482.40" y="1004.80" width="436.80" height="1.20" fill="#f0f3f5" />
<rect x="1256.00" y="1019.00" width="40.00" height="5.80" fill="#67ccec" />
<rect x="1256.00" y="1024.50" width="40.00" height="3.30" fill="#2d9bea" />
<rect x="1256.00" y="1027.50" width="40.00" height="0.50" fill="#0e6cc8" />
<rect x="1310.10" y="894.10" width="39.80" height="84.40" fill="#67ccec" />
<rect x="1310.10" y="978.20" width="39.80" height="38.90" fill="#2d9bea" />
<rect x="1310.10" y="1016.80" width="39.80" height="11.20" fill="#0e6cc8" />
<rect x="1365.10" y="1019.00" width="40.90" height="5.30" fill="#67ccec" />
<rect x="1365.10" y="1024.00" width="40.90" height="3.80" fill="#2d9bea" />
<rect x="1365.10" y="1027.50" width="40.90" height="0.50" fill="#0e6cc8" />
<rect x="1419.00" y="1022.90" width="41.00" height="3.40" fill="#67ccec" />
<rect x="1419.00" y="1026.00" width="41.00" height="2.10" fill="#2d9bea" />
<rect x="1419.00" y="1027.80" width="41.00" height="0.20" fill="#0e6cc8" />
<rect x="1473.10" y="974.90" width="40.80" height="33.50" fill="#67ccec" />
<rect x="1473.10" y="1008.10" width="40.80" height="17.30" fill="#2d9bea" />
<rect x="1473.10" y="1025.10" width="40.80" height="2.90" fill="#0e6cc8" />
<rect x="1247.60" y="888.20" width="1.20" height="141.40" fill="#f0f3f5" />
<rect x="1247.60" y="1027.80" width="274.60" height="2.00" fill="#f0f3f5" />
<rect x="1657.00" y="886.90" width="13.00" height="23.00" fill="#0e6cc8" />
<rect x="1669.80" y="886.90" width="34.40" height="23.00" fill="#2d9bea" />
<rect x="1704.00" y="886.90" width="86.10" height="23.00" fill="#67ccec" />
<rect x="1657.00" y="917.10" width="10.10" height="23.10" fill="#0e6cc8" />
<rect x="1666.90" y="917.10" width="40.30" height="23.10" fill="#2d9bea" />
<rect x="1707.00" y="917.10" width="80.20" height="23.10" fill="#67ccec" />
<rect x="1657.00" y="945.90" width="1.00" height="22.20" fill="#0e6cc8" />
<rect x="1657.80" y="945.90" width="6.50" height="22.20" fill="#2d9bea" />
<rect x="1664.10" y="945.90" width="10.10" height="22.20" fill="#67ccec" />
<rect x="1657.00" y="974.10" width="11.30" height="23.00" fill="#0e6cc8" />
<rect x="1668.10" y="974.10" width="38.10" height="23.00" fill="#2d9bea" />
<rect x="1706.00" y="974.10" width="76.20" height="23.00" fill="#67ccec" />
<rect x="1657.00" y="1003.80" width="1.80" height="23.00" fill="#0e6cc8" />
<rect x="1658.60" y="1003.80" width="9.70" height="23.00" fill="#2d9bea" />
<rect x="1668.10" y="1003.80" width="23.00" height="23.00" fill="#67ccec" />
<rect x="1655.60" y="883.90" width="1.20" height="146.30" fill="#f0f3f5" />
<rect x="1655.60" y="1029.00" width="142.50" height="1.20" fill="#f0f3f5" />
<g transform="translate(17.9,1106.6) scale(2.35)"><path fill="#050708" d="M8 0C3.58 0 0 3.58 0 8c0 3.54 2.29 6.53 5.47 7.59.4.07.55-.17.55-.38 0-.19-.01-.82-.01-1.49-2.01.37-2.53-.49-2.69-.94-.09-.23-.48-.94-.82-1.13-.28-.15-.68-.52-.01-.53.63-.01 1.08.58 1.23.82.72 1.21 1.87.87 2.33.66.07-.52.28-.87.51-1.07-1.78-.2-3.64-.89-3.64-3.95 0-.87.31-1.59.82-2.15-.08-.2-.36-1.02.08-2.12 0 0 .67-.21 2.2.82.64-.18 1.32-.27 2-.27s1.36.09 2 .27c1.53-1.04 2.2-.82 2.2-.82.44 1.1.16 1.92.08 2.12.51.56.82 1.27.82 2.15 0 3.07-1.87 3.75-3.65 3.95.29.25.54.73.54 1.48 0 1.07-.01 1.93-.01 2.2 0 .21.15.46.55.38A8.01 8.01 0 0 0 16 8c0-4.42-3.58-8-8-8z"/></g>
<rect x="80.00" y="71.00" width="220.00" height="178.00" fill="#fff" />
<g transform="translate(80,76) scale(0.11591)">
<g fill="#1e4b60">
<path d="M915,85 C1050,38 1350,28 1560,108 C1720,172 1825,268 1845,370 L1750,370 C1720,292 1620,203 1480,142 C1300,70 1080,68 915,85 Z"/>
<path d="M70,783 L215,793 C265,852 400,918 600,943 C700,955 790,950 858,952 C780,990 600,1003 440,980 C280,952 140,880 95,795 Z"/>
<path d="M70,778 L1100,742 L1290,712 L1385,700 L1380,720 L1150,752 L600,775 L75,792 Z"/>
<path d="M60,690 L60,600 L75,570 L118,540 L88,520 L100,490 L220,465 L440,430 L520,385 C580,350 640,335 700,328 C760,318 900,318 1000,335 L1100,350 L1180,410 L1290,455 L1310,520 L1350,560 L1372,640 L1386,700 L1330,725 L1270,716 L1150,722 L1100,692 L820,722 L740,752 L600,762 L540,737 L310,752 L270,767 L200,767 L140,732 Z"/>
<path d="M1105,345 L1250,338 L1345,356 L1480,408 L1700,440 L1800,495 L1790,500 L1690,452 L1470,420 L1300,402 L1185,408 Z"/>
<ellipse cx="1470" cy="495" rx="34" ry="25" transform="rotate(20 1470 495)"/>
<ellipse cx="1552" cy="497" rx="34" ry="25" transform="rotate(20 1552 497)"/>
<path d="M1618,468 L1745,468 L1802,512 L1792,548 L1665,542 Z"/>
<path d="M1385,630 L1480,630 L1502,652 L1700,660 L1836,640 L1830,666 L1700,692 L1500,686 L1385,676 Z"/>
<path d="M1592,704 H1740 Q1668,760 1592,704 Z"/>
</g>
<g fill="none" stroke="#1e4b60" stroke-linecap="round">
<path d="M285,370 C450,250 700,160 950,135 C1100,122 1250,125 1330,140" stroke-width="7" stroke-opacity="0.8"/>
<path d="M405,370 C520,300 700,235 870,215" stroke-width="5" stroke-opacity="0.55"/>
<path d="M1330,140 C1400,155 1470,180 1530,215" stroke-width="4" stroke-opacity="0.35"/>
<path d="M1560,262 C1610,295 1650,335 1672,368" stroke-width="9" stroke-opacity="0.85"/>
<path d="M125,945 C300,1040 600,1075 900,1035 C1150,1000 1400,900 1560,795" stroke-width="6" stroke-opacity="0.5"/>
<path d="M1130,935 C1250,900 1380,840 1450,795" stroke-width="6" stroke-opacity="0.6"/>
</g>
<g fill="#fff">
<path d="M370,553 L602,513 L565,545 L480,572 L385,572 Z"/>
<path d="M725,523 L1012,503 L880,532 L748,562 Z"/>
<path d="M118,543 L340,552 L345,560 L120,553 Z"/>
<path d="M66,598 L180,608 L480,588 L478,600 L180,624 L66,612 Z"/>
<path d="M66,650 L200,664 L480,640 L478,652 L200,680 L66,664 Z"/>
<path d="M300,745 L540,735 L530,750 L290,761 Z"/>
<path d="M730,745 L1100,692 L1128,707 L800,742 Z"/>
<path d="M1300,528 Q1352,610 1345,700 L1312,716 Q1322,620 1290,540 Z"/>
<ellipse cx="665" cy="650" rx="67" ry="104"/>
<ellipse cx="1228" cy="630" rx="47" ry="98"/>
</g>
<g fill="none" stroke="#fff" stroke-width="5" stroke-linecap="round">
<path d="M440,434 L790,446 L1050,450 L1092,434"/>
<path d="M790,444 L862,357 L905,347"/>
<path d="M360,520 C420,492 500,475 600,470" stroke-width="4"/>
<path d="M1138,565 C1150,510 1200,476 1290,498" stroke-width="6"/>
<path d="M840,660 L1040,630" stroke-width="3" stroke-opacity="0.5"/>
<path d="M1640,485 L1780,520 M1650,510 L1785,537" stroke-width="3" stroke-opacity="0.7"/>
</g>
<g fill="#1e4b60">
<ellipse cx="665" cy="650" rx="52" ry="86"/>
<ellipse cx="1228" cy="630" rx="35" ry="80"/>
</g>
<g stroke="#fff" stroke-width="13" stroke-linecap="butt">
<path d="M665,650 L665,562 M665,650 L615,620 M665,650 L632,722 M665,650 L700,722 M665,650 L716,618"/>
<path d="M1228,630 L1228,548 M1228,630 L1194,602 M1228,630 L1204,698 M1228,630 L1254,698 M1228,630 L1263,600" stroke-width="10"/>
</g>
<circle cx="665" cy="650" r="14" fill="#1e4b60"/><circle cx="1228" cy="630" r="10" fill="#1e4b60"/>
</g>
</svg>
<span class="t" style="font-size:30.5px;color:#fff;font-weight:700;word-spacing:5px;letter-spacing:5.03px;left:719.60px;top:82.28px;">CAV AUTOINSURANCE DASHBOARD</span>
<span class="t" style="font-size:17.4px;color:#fff;font-weight:700;letter-spacing:3.63px;left:426.70px;top:134.87px;">FILTERS</span>
<span class="t" style="font-size:17.2px;color:#fff;font-weight:700;left:344.29px;top:170.84px;transform:scaleX(1.0063);">Response</span>
<span class="t" style="font-size:18.3px;color:#cbd5db;left:323.10px;top:197.11px;transform:scaleX(0.8969);">ALL</span>
<span class="t" style="font-size:18px;color:#fff;left:501.35px;top:180.16px;transform:scaleX(1.1475);">State</span>
<span class="t" style="font-size:18.9px;color:#3a3f44;left:553.10px;top:173.30px;transform:scaleX(0.9850);">All</span>
<span class="t" style="font-size:18px;color:#fff;left:490.12px;top:230.06px;transform:scaleX(1.0821);">Cluster</span>
<span class="t" style="font-size:18.9px;color:#3a3f44;left:556.00px;top:220.20px;transform:scaleX(0.9750);">All</span>
<span class="t" style="font-size:24.4px;color:#1c4a5e;font-weight:700;left:741.82px;top:146.65px;transform:scaleX(0.8761);">CLV</span>
<span class="t" style="font-size:29.6px;color:#fff;font-weight:700;left:673.78px;top:201.84px;transform:scaleX(1.0240);">$ 40,259,422</span>
<span class="t" style="font-size:24.4px;color:#1c4a5e;font-weight:700;left:929.01px;top:146.85px;transform:scaleX(0.9935);">Monthly Premium</span>
<span class="t" style="font-size:29.6px;color:#fff;font-weight:700;left:961.78px;top:201.44px;transform:scaleX(1.0200);">$ 561,528</span>
<span class="t" style="font-size:24.4px;color:#1c4a5e;font-weight:700;left:1230.04px;top:144.15px;transform:scaleX(0.9644);">Claim Amount</span>
<span class="t" style="font-size:29.6px;color:#fff;font-weight:700;left:1227.97px;top:199.94px;transform:scaleX(1.0305);">$ 2,613,336</span>
<span class="t" style="font-size:24.4px;color:#1c4a5e;font-weight:700;left:1473.10px;top:143.85px;transform:scaleX(0.9494);">Policies</span>
<span class="t" style="font-size:29.6px;color:#fff;font-weight:700;left:1470.40px;top:200.34px;transform:scaleX(1.0506);">19,737</span>
<span class="t" style="font-size:24.4px;color:#1c4a5e;font-weight:700;left:1609.35px;top:143.85px;transform:scaleX(0.9535);">Open Complaints</span>
<span class="t" style="font-size:29.6px;color:#fff;font-weight:700;left:1664.65px;top:200.34px;transform:scaleX(1.0458);">2,408</span>
<span class="t" style="font-size:23px;color:#fff;font-weight:700;left:275.87px;top:277.63px;transform:scaleX(1.0348);">Customer Map</span>
<span class="t" style="font-size:23.7px;color:#fff;font-weight:700;left:1532.22px;top:279.44px;transform:scaleX(0.9831);">Coverage Cluster</span>
<span class="t" style="font-size:24.1px;color:#fff;font-weight:700;word-spacing:9px;letter-spacing:4.18px;left:373.20px;top:783.60px;">PRODUCT DETAILS</span>
<span class="t" style="font-size:24.1px;color:#fff;font-weight:700;letter-spacing:4.13px;left:1279.80px;top:783.90px;">DEMOGRAPHIC</span>
<span class="t" style="font-size:13.5px;color:#666;left:95.60px;top:733.07px;transform:scaleX(1.0092);">© Mapbox © OSM</span>
<span class="t" style="font-size:15.2px;color:rgba(20,40,70,0.16);left:290.00px;top:363.13px;transform:scaleX(0.9620);">Washington</span>
<span class="t" style="font-size:15.2px;color:rgba(20,40,70,0.16);left:298.47px;top:450.63px;transform:scaleX(1.0306);">Oregon</span>
<span class="t" style="font-size:15.2px;color:rgba(20,40,70,0.16);left:360.99px;top:556.33px;transform:scaleX(1.0078);">Nevada</span>
<span class="t" style="font-size:15.2px;color:rgba(20,40,70,0.16);left:302.82px;top:598.83px;transform:scaleX(1.0762);">California</span>
<span class="t" style="font-size:15.2px;color:rgba(20,40,70,0.16);left:451.60px;top:657.13px;transform:scaleX(0.9882);">Arizona</span>
<span class="t" style="font-size:18.7px;color:#fff;left:273.50px;top:371.47px;transform:scaleX(1.0474);">Washington</span>
<span class="t" style="font-size:18.7px;color:#fff;left:292.38px;top:455.27px;transform:scaleX(1.0150);">Oregon</span>
<span class="t" style="font-size:18.7px;color:#fff;left:355.01px;top:563.47px;transform:scaleX(0.9937);">Nevada</span>
<span class="t" style="font-size:18.7px;color:#fff;left:294.95px;top:606.37px;transform:scaleX(1.0474);">California</span>
<span class="t" style="font-size:18.7px;color:#fff;left:445.20px;top:662.97px;transform:scaleX(0.9968);">Arizona</span>
<span class="t" style="font-size:15.2px;color:#b6b6b6;left:474.12px;top:378.23px;transform:scaleX(1.0776);">Montana</span>
<span class="t" style="font-size:15.2px;color:#b6b6b6;left:404.71px;top:448.63px;transform:scaleX(1.0889);">Idaho</span>
<span class="t" style="font-size:15.2px;color:#b6b6b6;left:511.00px;top:473.83px;transform:scaleX(1.0790);">Wyoming</span>
<span class="t" style="font-size:15.2px;color:#b6b6b6;left:454.90px;top:558.03px;transform:scaleX(1.1000);">Utah</span>
<span class="t" style="font-size:15.2px;color:#b6b6b6;left:545.86px;top:563.63px;transform:scaleX(1.0417);">Colorado</span>
<span class="t" style="font-size:15.2px;color:#b6b6b6;left:526.25px;top:658.53px;transform:scaleX(1.0506);">New Mexico</span>
<span class="t" style="font-size:29.8px;color:#33566e;font-weight:700;left:794.23px;top:343.17px;transform:scaleX(1.0875);">11.6%</span>
<span class="t" style="font-size:29.8px;color:#33566e;font-weight:700;left:741.54px;top:475.27px;transform:scaleX(1.0566);">34.1%</span>
<span class="t" style="font-size:29.8px;color:#33566e;font-weight:700;left:684.05px;top:633.77px;transform:scaleX(1.0494);">54.3%</span>
<span class="t" style="font-size:23.4px;color:#11394b;left:955.33px;top:346.19px;transform:scaleX(1.0702);-webkit-text-stroke:0.3px #11394b;">Gold</span>
<span class="t" style="font-size:22.7px;color:#11394b;left:950.83px;top:480.18px;transform:scaleX(1.0673);-webkit-text-stroke:0.3px #11394b;">Silver</span>
<span class="t" style="font-size:22.9px;color:#11394b;left:942.73px;top:636.52px;transform:scaleX(1.0855);-webkit-text-stroke:0.3px #11394b;">Bronze</span>
<span class="t" style="font-size:35.6px;color:#fff;left:952.83px;top:380.66px;transform:scaleX(1.0857);">713</span>
<span class="t" style="font-size:35.2px;color:#fff;left:935.89px;top:520.40px;transform:scaleX(1.1047);">2,100</span>
<span class="t" style="font-size:35.4px;color:#fff;left:933.57px;top:674.83px;transform:scaleX(1.1141);">3,348</span>
<span class="t" style="font-size:29.6px;color:#fff;font-weight:700;left:1253.53px;top:342.14px;transform:scaleX(1.0743);">$ 13,278</span>
<span class="t" style="font-size:29.6px;color:#fff;font-weight:700;left:1263.32px;top:479.74px;transform:scaleX(1.0760);">$ 8,090</span>
<span class="t" style="font-size:29.6px;color:#fff;font-weight:700;left:1263.44px;top:636.64px;transform:scaleX(1.0557);">$ 4,123</span>
<span class="t" style="font-size:24.7px;color:#fff;font-weight:700;font-style:italic;left:1204.86px;top:716.59px;transform:scaleX(0.9411);">Customer Cluster</span>
<span class="t" style="font-size:18px;color:#1c4a5e;left:1462.62px;top:328.76px;transform:scaleX(1.0768);">Cluster</span>
<span class="t" style="font-size:18px;color:#1c4a5e;left:1547.98px;top:328.76px;transform:scaleX(1.0177);">Response</span>
<span class="t" style="font-size:18px;color:#1c4a5e;font-weight:700;left:1645.74px;top:328.76px;transform:scaleX(0.9587);">Basic</span>
<span class="t" style="font-size:18px;color:#1c4a5e;font-weight:700;left:1699.37px;top:328.76px;transform:scaleX(1.0283);">Exte..</span>
<span class="t" style="font-size:18px;color:#1c4a5e;font-weight:700;left:1758.95px;top:328.76px;transform:scaleX(1.0459);">Pre..</span>
<span class="t" style="font-size:18px;color:#1c4a5e;left:1576.82px;top:377.06px;transform:scaleX(1.0762);">No</span>
<span class="t" style="font-size:18px;color:#fff;left:1644.28px;top:377.06px;transform:scaleX(1.0300);">2,150</span>
<span class="t" style="font-size:18px;color:#fff;left:1715.13px;top:377.06px;transform:scaleX(1.0300);">598</span>
<span class="t" style="font-size:18px;color:#fff;left:1770.53px;top:377.06px;transform:scaleX(1.0300);">131</span>
<span class="t" style="font-size:18px;color:#1c4a5e;left:1572.95px;top:443.46px;transform:scaleX(1.0464);">Yes</span>
<span class="t" style="font-size:18px;color:#fff;left:1659.73px;top:443.46px;transform:scaleX(1.0300);">300</span>
<span class="t" style="font-size:18px;color:#fff;left:1715.13px;top:443.46px;transform:scaleX(1.0300);">143</span>
<span class="t" style="font-size:18px;color:#fff;left:1780.83px;top:443.46px;transform:scaleX(1.0300);">26</span>
<span class="t" style="font-size:18px;color:#1c4a5e;left:1576.82px;top:509.96px;transform:scaleX(1.0762);">No</span>
<span class="t" style="font-size:18px;color:#fff;left:1659.73px;top:509.96px;transform:scaleX(1.0300);">268</span>
<span class="t" style="font-size:18px;color:#fff;left:1715.13px;top:509.96px;transform:scaleX(1.0300);">203</span>
<span class="t" style="font-size:18px;color:#fff;left:1770.53px;top:509.96px;transform:scaleX(1.0300);">123</span>
<span class="t" style="font-size:18px;color:#1c4a5e;left:1572.95px;top:575.96px;transform:scaleX(1.0464);">Yes</span>
<span class="t" style="font-size:18px;color:#fff;left:1670.03px;top:575.96px;transform:scaleX(1.0300);">61</span>
<span class="t" style="font-size:18px;color:#fff;left:1725.43px;top:575.96px;transform:scaleX(1.0300);">21</span>
<span class="t" style="font-size:18px;color:#fff;left:1780.83px;top:575.96px;transform:scaleX(1.0300);">37</span>
<span class="t" style="font-size:18px;color:#1c4a5e;left:1576.82px;top:643.36px;transform:scaleX(1.0762);">No</span>
<span class="t" style="font-size:18px;color:#fff;left:1658.70px;top:643.36px;transform:scaleX(1.0300);">914</span>
<span class="t" style="font-size:18px;color:#fff;left:1715.13px;top:643.36px;transform:scaleX(1.0300);">742</span>
<span class="t" style="font-size:18px;color:#fff;left:1770.53px;top:643.36px;transform:scaleX(1.0300);">220</span>
<span class="t" style="font-size:18px;color:#1c4a5e;left:1572.95px;top:709.86px;transform:scaleX(1.0464);">Yes</span>
<span class="t" style="font-size:18px;color:#fff;left:1659.73px;top:709.86px;transform:scaleX(1.0300);">131</span>
<span class="t" style="font-size:18px;color:#fff;left:1725.43px;top:709.86px;transform:scaleX(1.0300);">85</span>
<span class="t" style="font-size:18px;color:#fff;left:1791.13px;top:709.86px;transform:scaleX(1.0300);">8</span>
<span class="t" style="font-size:18px;color:#1c4a5e;font-weight:700;left:1463.29px;top:410.86px;transform:scaleX(1.0051);">Bronze</span>
<span class="t" style="font-size:18px;color:#1c4a5e;font-weight:700;left:1473.62px;top:543.06px;transform:scaleX(0.9769);">Gold</span>
<span class="t" style="font-size:18px;color:#1c4a5e;font-weight:700;left:1468.70px;top:677.26px;transform:scaleX(1.0042);">Silver</span>
<span class="t" style="font-size:24.5px;color:#fff;left:114.20px;top:845.26px;transform:scaleX(1.0563);">Vehicle Proportion</span>
<span class="t" style="font-size:24.5px;color:#fff;left:572.19px;top:845.76px;transform:scaleX(1.0115);">Top 5 Policy</span>
<span class="t" style="font-size:24px;color:#fff;left:1000.74px;top:842.78px;transform:scaleX(1.1313);">Marital Status</span>
<span class="t" style="font-size:24px;color:#fff;left:1251.74px;top:847.18px;transform:scaleX(1.0810);">Employment Status</span>
<span class="t" style="font-size:24px;color:#fff;left:1603.23px;top:843.18px;transform:scaleX(1.0825);">Education</span>
<span class="t" style="font-size:18.2px;color:#fff;left:375.58px;top:890.99px;transform:scaleX(1.0179);">Personal L3</span>
<span class="t" style="font-size:18.2px;color:#fff;left:375.58px;top:914.99px;transform:scaleX(1.0179);">Personal L2</span>
<span class="t" style="font-size:18.2px;color:#fff;left:375.58px;top:938.79px;transform:scaleX(1.0179);">Personal L1</span>
<span class="t" style="font-size:18.2px;color:#fff;left:364.56px;top:961.89px;transform:scaleX(1.0356);">Corporate L3</span>
<span class="t" style="font-size:18.2px;color:#fff;left:364.56px;top:985.89px;transform:scaleX(1.0356);">Corporate L2</span>
<span class="t" style="font-size:18.6px;color:#e3e9ec;left:483.13px;top:1022.06px;transform:scaleX(1.1696);">0M</span>
<span class="t" style="font-size:18.6px;color:#e3e9ec;left:607.08px;top:1022.06px;transform:scaleX(1.1217);">5M</span>
<span class="t" style="font-size:18.6px;color:#e3e9ec;left:741.43px;top:1022.06px;transform:scaleX(1.0706);">10M</span>
<span class="t" style="font-size:18.6px;color:#e3e9ec;left:875.93px;top:1022.06px;transform:scaleX(1.0676);">15M</span>
<span class="t" style="font-size:18.2px;color:#fff;left:594.24px;top:1055.09px;transform:scaleX(1.0607);-webkit-text-stroke:0.35px #fff;">Customer Lifetime Value</span>
<span class="t" style="font-size:18.6px;color:#e3e9ec;left:1213.82px;top:916.26px;transform:scaleX(0.9810);">3K</span>
<span class="t" style="font-size:18.6px;color:#e3e9ec;left:1213.82px;top:950.56px;transform:scaleX(0.9810);">2K</span>
<span class="t" style="font-size:18.6px;color:#e3e9ec;left:1213.82px;top:986.36px;transform:scaleX(0.9810);">1K</span>
<span class="t" style="font-size:18px;color:#dfe6ea;left:1251.74px;top:1041.16px;transform:scaleX(1.0558);">Disa..</span>
<span class="t" style="font-size:18px;color:#dfe6ea;left:1304.35px;top:1041.16px;transform:scaleX(1.0542);">Empl..</span>
<span class="t" style="font-size:18px;color:#dfe6ea;left:1359.19px;top:1041.16px;transform:scaleX(1.1065);">Medi..</span>
<span class="t" style="font-size:18px;color:#dfe6ea;left:1413.44px;top:1041.16px;transform:scaleX(1.1568);">Retir..</span>
<span class="t" style="font-size:18px;color:#dfe6ea;left:1471.17px;top:1041.16px;transform:scaleX(1.0325);">Une..</span>
<span class="t" style="font-size:18.2px;color:#eef2f4;left:1572.96px;top:890.59px;transform:scaleX(1.0423);">Bachelor</span>
<span class="t" style="font-size:18.2px;color:#eef2f4;left:1585.37px;top:919.79px;transform:scaleX(1.0267);">College</span>
<span class="t" style="font-size:18.2px;color:#eef2f4;left:1590.21px;top:949.99px;transform:scaleX(1.0904);">Doctor</span>
<span class="t" style="font-size:18.2px;color:#eef2f4;left:1534.39px;top:978.49px;transform:scaleX(1.0144);">High School ..</span>
<span class="t" style="font-size:18.2px;color:#eef2f4;left:1586.48px;top:1008.19px;transform:scaleX(1.1185);">Master</span>
<span class="t" style="font-size:18.6px;color:#e3e9ec;left:1657.04px;top:1046.26px;transform:scaleX(1.1556);">0</span>
<span class="t" style="font-size:18.6px;color:#e3e9ec;left:1705.95px;top:1046.26px;transform:scaleX(1.0525);">1000</span>
<span class="t" style="font-size:28.2px;color:#fff;font-weight:700;font-style:italic;left:68.02px;top:1114.83px;transform:scaleX(0.9780);">by : Cavalier Team</span>
<span class="t" style="font-size:23px;color:#1e4b60;font-weight:700;letter-spacing:5.30px;left:161.40px;top:203.43px;">CAV</span>
<span class="t" style="font-size:17.6px;color:#5b7d8e;letter-spacing:0.8px;left:120.40px;top:226.90px;transform:scaleX(1.1393);">AutoInsurance</span>
</div></body></html>
